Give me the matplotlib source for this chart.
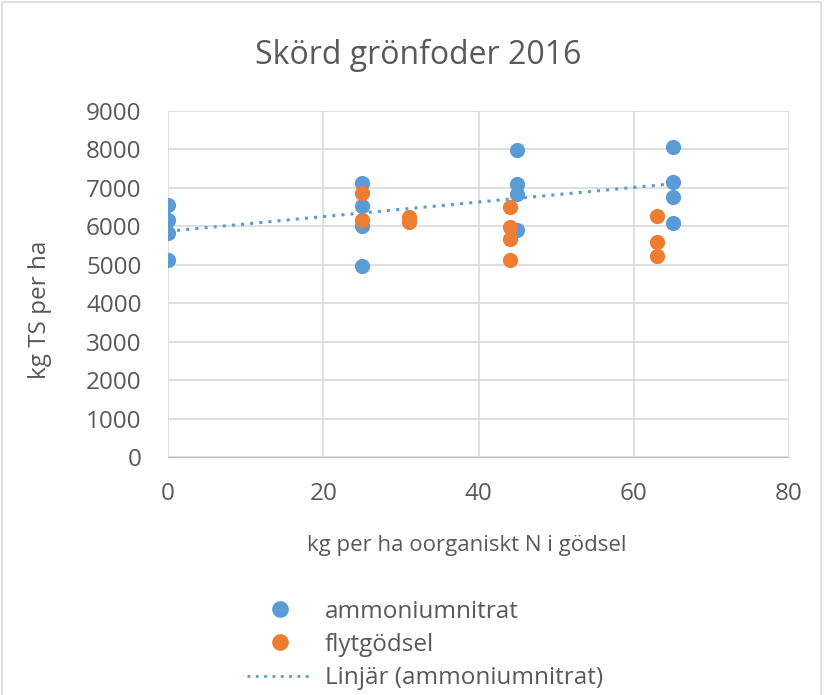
import numpy as np
import matplotlib
matplotlib.use("Agg")
import matplotlib.pyplot as plt
from matplotlib.lines import Line2D
from matplotlib.patches import Rectangle

plt.rcParams['font.family'] = ['Open Sans', 'DejaVu Sans']

# ammoniumnitrat
am_x = [0, 0, 0, 0, 25, 25, 25, 25, 45, 45, 45, 45, 65, 65, 65, 65]
am_y = [6555, 6165, 5820, 5125, 7135, 6530, 6010, 4970, 7985, 7095, 6840, 5905, 8070, 7160, 6755, 6095]
# flytgödsel
fg_x = [25, 25, 31, 31, 44, 44, 44, 44, 63, 63, 63]
fg_y = [6875, 6165, 6245, 6115, 6510, 5975, 5665, 5125, 6275, 5585, 5235]

blue = '#5B9BD5'
orange = '#ED7D31'
txt = '#595959'

fig = plt.figure(figsize=(8.25, 6.95), dpi=100)
W, H = 825, 695
ax = fig.add_axes([168/W, 1-457/H, (789-168)/W, (457-111)/H])

ax.scatter(am_x, am_y, s=120, color=blue, zorder=3, linewidths=0)
ax.scatter(fg_x, fg_y, s=120, color=orange, zorder=3, linewidths=0)

# linear trend for ammoniumnitrat
k, m = np.polyfit(am_x, am_y, 1)
tx = np.array([min(am_x), max(am_x)])
ax.plot(tx, k*tx + m, color=blue, lw=2.2, ls=(0, (1, 2)), zorder=4)

ax.set_xlim(0, 80)
ax.set_ylim(0, 9000)
ax.set_xticks(range(0, 81, 20))
ax.set_yticks(range(0, 9001, 1000))
ax.grid(True, color='#d9d9d9', lw=1.2)
ax.set_axisbelow(True)
for s in ['top', 'right', 'left']:
    ax.spines[s].set_visible(False)
ax.spines['bottom'].set_color('#bfbfbf')
ax.tick_params(length=0, labelsize=17.5, labelcolor=txt)
ax.tick_params(axis='x', pad=18)
ax.tick_params(axis='y', pad=19)

fig.text(418/W, 1-55/H, 'Skörd grönfoder 2016', fontsize=23, color=txt,
         ha='center', va='center')
fig.text(40/W, 1-310/H, 'kg TS per ha', fontsize=17.5, color=txt,
         ha='center', va='center', rotation=90)
fig.text(467/W, 1-545/H, 'kg per ha oorganiskt N i gödsel', fontsize=16, color=txt,
         ha='center', va='center')

handles = [
    Line2D([], [], ls='none', marker='o', ms=11, color=blue),
    Line2D([], [], ls='none', marker='o', ms=11, color=orange),
    Line2D([], [], color=blue, lw=2, ls=(0, (1, 2))),
]
labels = ['ammoniumnitrat', 'flytgödsel', 'Linjär (ammoniumnitrat)']
fig.legend(handles, labels, loc='center left', bbox_to_anchor=(225/W, 1-645/H),
           frameon=False, fontsize=17.5, labelcolor=txt, handlelength=2.7,
           handletextpad=0.5, labelspacing=0.38)

fig.patches.append(Rectangle((2/W, -0.01), (W-6)/W, 1-2/H+0.01, transform=fig.transFigure,
                             fill=False, edgecolor='#d9d9d9', lw=1.2))

fig.savefig('out.png', dpi=100, facecolor='white')
